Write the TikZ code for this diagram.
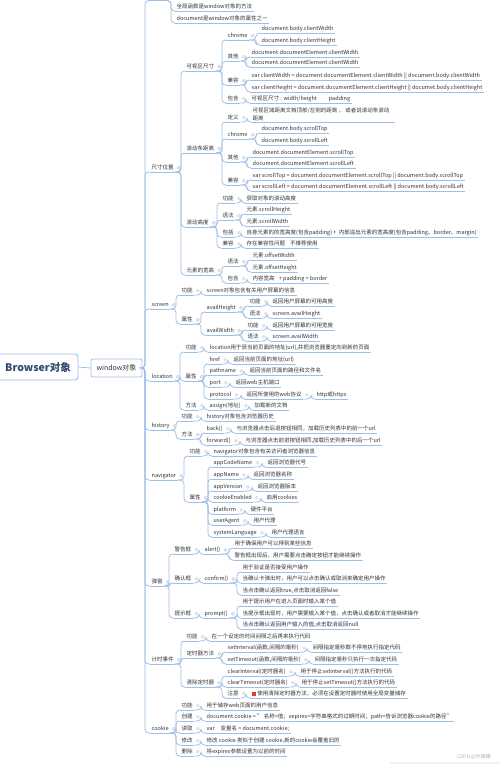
\documentclass[tikz,border=0pt]{standalone}
\usepackage{fontspec}
\setmainfont{Noto Sans CJK SC}
\usetikzlibrary{calc}
\definecolor{ulc}{HTML}{9DC0E8}
\definecolor{txt}{HTML}{333333}
\definecolor{circ}{HTML}{C5CFDB}
\definecolor{rootc}{HTML}{2E4A6B}
\definecolor{iconred}{HTML}{E03A3A}
\tikzset{
 lbl/.style={anchor=south west, inner xsep=1.5pt, inner ysep=1pt, text height=4.5pt, text depth=1.3pt, font=\fontsize{5.5}{7}\selectfont, text=txt},
 ul/.style={draw=ulc, line width=0.9pt},
 cn/.style={draw=ulc, line width=0.8pt, rounded corners=3.5pt},
 knob/.style={draw=circ, fill=white, line width=0.5pt},
 rootbox/.style={draw=ulc, line width=0.9pt, rounded corners=3pt, fill=white, minimum width=80pt, minimum height=26pt, font=\fontsize{10.5}{12}\selectfont\bfseries, text=rootc},
 winbox/.style={draw=ulc, line width=0.8pt, rounded corners=2pt, fill=white, minimum width=51pt, minimum height=18pt, font=\fontsize{7}{8}\selectfont, text=txt},
}
\newcommand\Nd[4]{\node[lbl] (#1) at (#2,#3) {#4}; \draw[ul] (#1.south west) -- (#1.south east);}
\newcommand\Cn[3][south east]{\draw[cn] let \p1=(#2.#1), \p2=(#3.south west) in (\p1) -- (\x2-4pt,\y1) -- (\x2-4pt,\y2) -- (\p2);
  \draw[knob] ($(#2.#1)+(3.5pt,4.2pt)$) circle (1.4pt);}
\newcommand\Tk[1]{\draw[cn] (win.east) -- (145,368) |- (#1.south west);}
\begin{document}
\begin{tikzpicture}[x=1pt,y=-1pt]
\fill[white] (0,0) rectangle (500,764);
\useasboundingbox (0,0) rectangle (500,764);

% root and window
\node[rootbox] (root) at (38,367) {Browser对象};
\node[winbox] (win) at (116.5,368) {window对象};
\draw[cn] (root.east) -- (win.west);

% top (cut) group
\coordinate (t0a) at (150,0.6);
\coordinate (t0) at (168,0.6);
\draw[ul] (t0a) -- (t0);
\draw[cn] (win.east) -- (145,368) |- (t0a);
\Nd{g1}{175}{11}{全局函数是window对象的方法}
\Nd{g2}{175}{23}{document是window对象的属性之一}
\Cn[center]{t0}{g1}\Cn[center]{t0}{g2}

% 尺寸位置
\Nd{s}{150}{172}{尺寸位置}
\Nd{s1}{185}{71}{可视区尺寸}
\Nd{s2}{185}{153}{滚动条距离}
\Nd{s3}{185}{227}{滚动高度}
\Nd{s4}{185}{275}{元素的宽高}
\Nd{s1a}{226}{40}{chrome}
\Nd{s1b}{226}{61}{其他}
\Nd{s1c}{226}{85}{兼容}
\Nd{s1d}{226}{103}{包含}
\Nd{s1a1}{260}{33}{document.body.clientWidth}
\Nd{s1a2}{260}{45}{document.body.clientHeight}
\Nd{s1b1}{250}{57}{document.documentElement.clientWidth}
\Nd{s1b2}{250}{67}{document.documentElement.clientWidth}
\Nd{s1c1}{250}{80}{var clientWidth = document.documentElement.clientWidth || document.body.clientWidth}
\Nd{s1c2}{250}{92}{var clientHeight = document.documentElement.clientHeight || documet.body.clientHeight}
\Nd{s1d1}{250}{103}{可视区尺寸 : width/height\hspace{12pt}padding}
\Nd{s2a}{226}{122}{定义}
\node[anchor=south west, inner xsep=1.5pt, inner ysep=1pt, align=left, font=\fontsize{5.5}{7.6}\selectfont, text=txt] (s2a1) at (251,122) {可视区域距离文档顶部/左侧的距离 ， 或者说滚动条滚动\\距离};
\draw[ul] (s2a1.south west) -- ++(144pt,0);
\Nd{s2b}{226}{139}{chrome}
\Nd{s2b1}{260}{133}{document.body.scrollTop}
\Nd{s2b2}{260}{145}{document.body.scrollLeft}
\Nd{s2c}{226}{162}{其他}
\Nd{s2c1}{251}{157}{document.documentElement.scrollTop}
\Nd{s2c2}{251}{168}{document.documentElement.scrollLeft}
\Nd{s2d}{226}{185}{兼容}
\Nd{s2d1}{251}{180}{var scrollTop = document.documentElement.scrollTop || document.body.scrollTop}
\Nd{s2d2}{251}{191}{var scrollLeft = document.documentElement.scrollLeft || document.body.scrollLeft}
\Nd{s3a}{221}{203}{功能}
\Nd{s3a1}{245}{203}{获取对象的滚动高度}
\Nd{s3b}{221}{220}{语法}
\Nd{s3b1}{245}{214}{元素.scrollHeight}
\Nd{s3b2}{245}{226}{元素.scrollWidth}
\Nd{s3c}{221}{237}{包括}
\Nd{s3c1}{245}{237}{自身元素的的宽高度(包含padding) + \ 内部溢出元素的宽高度(包含padding、border、margin)}
\Nd{s3d}{221}{248}{兼容}
\Nd{s3d1}{245}{248}{存在兼容性问题\hspace{5pt}不推荐使用}
\Nd{s4a}{226}{266}{语法}
\Nd{s4a1}{251}{260}{元素.offsetWidth}
\Nd{s4a2}{251}{272}{元素.offsetHeight}
\Nd{s4b}{226}{283}{包含}
\Nd{s4b1}{251}{283}{内容宽高\hspace{3pt} + padding + border}
\Cn{s}{s1}\Cn{s}{s2}\Cn{s}{s3}\Cn{s}{s4}
\Cn{s1}{s1a}\Cn{s1}{s1b}\Cn{s1}{s1c}\Cn{s1}{s1d}
\Cn{s1a}{s1a1}\Cn{s1a}{s1a2}\Cn{s1b}{s1b1}\Cn{s1b}{s1b2}
\Cn{s1c}{s1c1}\Cn{s1c}{s1c2}\Cn{s1d}{s1d1}
\Cn{s2}{s2a}\Cn{s2}{s2b}\Cn{s2}{s2c}\Cn{s2}{s2d}
\Cn{s2a}{s2a1}\Cn{s2b}{s2b1}\Cn{s2b}{s2b2}\Cn{s2c}{s2c1}\Cn{s2c}{s2c2}
\Cn{s2d}{s2d1}\Cn{s2d}{s2d2}
\Cn{s3}{s3a}\Cn{s3}{s3b}\Cn{s3}{s3c}\Cn{s3}{s3d}
\Cn{s3a}{s3a1}\Cn{s3b}{s3b1}\Cn{s3b}{s3b2}\Cn{s3c}{s3c1}\Cn{s3d}{s3d1}
\Cn{s4}{s4a}\Cn{s4}{s4b}
\Cn{s4a}{s4a1}\Cn{s4a}{s4a2}\Cn{s4b}{s4b1}

% screen
\Nd{sc}{150}{309}{screen}
\Nd{sca}{180}{295}{功能}
\Nd{sca1}{205}{295}{screen对象包含有关用户屏幕的信息}
\Nd{scb}{180}{324}{属性}
\Nd{scb1}{205}{312}{availHeight}
\Nd{scb1a}{248}{306}{功能}
\Nd{scb1a1}{271}{306}{返回用户屏幕的可用高度}
\Nd{scb1b}{248}{318}{语法}
\Nd{scb1b1}{271}{318}{screen.availHeight}
\Nd{scb2}{205}{335}{availWidth}
\Nd{scb2a}{246}{330}{功能}
\Nd{scb2a1}{271}{330}{返回用户屏幕的可用宽度}
\Nd{scb2b}{246}{341}{语法}
\Nd{scb2b1}{271}{341}{screen.availWidth}
\Cn{sc}{sca}\Cn{sc}{scb}\Cn{sca}{sca1}
\Cn{scb}{scb1}\Cn{scb}{scb2}
\Cn{scb1}{scb1a}\Cn{scb1}{scb1b}\Cn{scb1a}{scb1a1}\Cn{scb1b}{scb1b1}
\Cn{scb2}{scb2a}\Cn{scb2}{scb2b}\Cn{scb2a}{scb2a1}\Cn{scb2b}{scb2b1}

% location
\Nd{lo}{150}{381}{location}
\Nd{loa}{184}{352}{功能}
\Nd{loa1}{208}{352}{location用于获当前页面的地址(url),并把浏览器重定向到新的页面}
\Nd{lob}{184}{381}{属性}
\Nd{lob1}{208}{364}{href}
\Nd{lob1a}{232}{364}{返回当前页面的地址(url)}
\Nd{lob2}{208}{375}{pathname}
\Nd{lob2a}{248}{375}{返回当前页面的路径和文件名}
\Nd{lob3}{208}{387}{port}
\Nd{lob3a}{234}{387}{返回web主机端口}
\Nd{lob4}{208}{399}{protocol}
\Nd{lob4a}{245}{399}{返回所使用的web协议}
\Nd{lob4b}{315}{399}{http或https}
\Nd{loc}{184}{410}{方法}
\Nd{loc1}{208}{410}{assign(地址)}
\Nd{loc1a}{253}{410}{加载新的文档}
\Cn{lo}{loa}\Cn{lo}{lob}\Cn{lo}{loc}\Cn{loa}{loa1}
\Cn{lob}{lob1}\Cn{lob}{lob2}\Cn{lob}{lob3}\Cn{lob}{lob4}
\Cn{lob1}{lob1a}\Cn{lob2}{lob2a}\Cn{lob3}{lob3a}\Cn{lob4}{lob4a}\Cn{lob4a}{lob4b}
\Cn{loc}{loc1}\Cn{loc1}{loc1a}

% history
\Nd{hi}{150}{430}{history}
\Nd{hia}{180}{421}{功能}
\Nd{hia1}{205}{421}{history对象包含浏览器历史}
\Nd{hib}{180}{439}{方法}
\Nd{hib1}{205}{433}{back()}
\Nd{hib1a}{235}{433}{与浏览器点击后退按钮相同，加载历史列表中的前一个url}
\Nd{hib2}{205}{445}{forward()}
\Nd{hib2a}{244}{445}{与浏览器点击前进按钮相同,加载历史列表中的后一个url}
\Cn{hi}{hia}\Cn{hi}{hib}\Cn{hia}{hia1}
\Cn{hib}{hib1}\Cn{hib}{hib2}\Cn{hib1}{hib1a}\Cn{hib2}{hib2a}

% navigator
\Nd{na}{150}{480}{navigator}
\Nd{naa}{188}{456}{功能}
\Nd{naa1}{212}{456}{navigator对象包含有关访问者浏览器信息}
\Nd{nab}{188}{502}{属性}
\Nd{nb1}{212}{467}{appCodeName}
\Nd{nb1a}{266}{467}{返回浏览器代号}
\Nd{nb2}{212}{479}{appName}
\Nd{nb2a}{252}{479}{返回浏览器名称}
\Nd{nb3}{212}{491}{appVersion}
\Nd{nb3a}{256}{491}{返回浏览器版本}
\Nd{nb4}{212}{502}{cookieEnabled}
\Nd{nb4a}{265}{502}{启用cookies}
\Nd{nb5}{212}{514}{platform}
\Nd{nb5a}{249}{514}{硬件平台}
\Nd{nb6}{212}{525}{userAgent}
\Nd{nb6a}{252}{525}{用户代理}
\Nd{nb7}{212}{537}{systemLanguage}
\Nd{nb7a}{270}{537}{用户代理语言}
\Cn{na}{naa}\Cn{na}{nab}\Cn{naa}{naa1}
\Cn{nab}{nb1}\Cn{nab}{nb2}\Cn{nab}{nb3}\Cn{nab}{nb4}\Cn{nab}{nb5}\Cn{nab}{nb6}\Cn{nab}{nb7}
\Cn{nb1}{nb1a}\Cn{nb2}{nb2a}\Cn{nb3}{nb3a}\Cn{nb4}{nb4a}\Cn{nb5}{nb5a}\Cn{nb6}{nb6a}\Cn{nb7}{nb7a}

% 弹窗
\Nd{tc}{150}{586}{弹窗}
\Nd{tca}{173}{554}{警告框}
\Nd{tca1}{203}{554}{alert()}
\Nd{tca1a}{233}{548}{用于确保用户可以得到某些信息}
\Nd{tca1b}{233}{560}{警告框出现后，用户需要点击确定按钮才能继续操作}
\Nd{tcb}{173}{583}{确认框}
\Nd{tcb1}{203}{583}{confirm()}
\Nd{tcb1a}{241}{572}{用于验证是否接受用户操作}
\Nd{tcb1b}{241}{583}{当确认卡弹出时，用户可以点击确认或取消来确定用户操作}
\Nd{tcb1c}{241}{595}{当点击确认返回true,点击取消返回false}
\Nd{tcc}{173}{618}{提示框}
\Nd{tcc1}{203}{618}{prompt()}
\Nd{tcc1a}{241}{606}{用于提示用户在进入页面时输入某个值}
\Nd{tcc1b}{241}{618}{当提示框出现时，用户需要输入某个值，点击确认或者取消才能继续操作}
\Nd{tcc1c}{241}{629}{当点击确认返回用户输入的值,点击取消返回null}
\Cn{tc}{tca}\Cn{tc}{tcb}\Cn{tc}{tcc}
\Cn{tca}{tca1}\Cn{tca1}{tca1a}\Cn{tca1}{tca1b}
\Cn{tcb}{tcb1}\Cn{tcb1}{tcb1a}\Cn{tcb1}{tcb1b}\Cn{tcb1}{tcb1c}
\Cn{tcc}{tcc1}\Cn{tcc1}{tcc1a}\Cn{tcc1}{tcc1b}\Cn{tcc1}{tcc1c}

% 计时事件
\Nd{ti}{150}{664}{计时事件}
\Nd{tia}{185}{641}{功能}
\Nd{tia1}{210}{641}{在一个设定的时间间隔之后再来执行代码}
\Nd{tib}{185}{658}{定时器方法}
\Nd{tib1}{226}{652}{setInterval(函数,间隔的毫秒)}
\Nd{tib1a}{311}{652}{间隔指定毫秒数不停地执行指定代码}
\Nd{tib2}{226}{664}{setTimeout(函数,间隔的毫秒)}
\Nd{tib2a}{313}{664}{间隔指定毫秒只执行一次指定代码}
\Nd{tic}{185}{687}{清除定时器}
\Nd{tic1}{226}{676}{clearInterval(定时器名)}
\Nd{tic1a}{299}{676}{用于停止setinterval()方法执行的代码}
\Nd{tic2}{226}{687}{clearTimeout(定时器名)}
\Nd{tic2a}{300}{687}{用于停止setTimeout()方法执行的代码}
\Nd{tic3}{226}{698}{注意}
\Nd{tic3a}{250}{698}{{\color{iconred}\rule[-0.2pt]{4.2pt}{4.2pt}}\hspace{1.5pt}使用清除定时器方法，必须在设置定时器时使用全局变量储存}
\Cn{ti}{tia}\Cn{ti}{tib}\Cn{ti}{tic}\Cn{tia}{tia1}
\Cn{tib}{tib1}\Cn{tib}{tib2}\Cn{tib1}{tib1a}\Cn{tib2}{tib2a}
\Cn{tic}{tic1}\Cn{tic}{tic2}\Cn{tic}{tic3}
\Cn{tic1}{tic1a}\Cn{tic2}{tic2a}\Cn{tic3}{tic3a}

% cookie
\Nd{ck}{150}{733}{cookie}
\Nd{cka}{180}{710}{功能}
\Nd{cka1}{205}{710}{用于储存web页面的用户信息}
\Nd{ckb}{180}{721}{创建}
\Nd{ckb1}{205}{721}{document.cookie = " 名称=值；expires=字符串格式的过期时间；path=告诉浏览器cookie的路径"}
\Nd{ckc}{180}{733}{读取}
\Nd{ckc1}{205}{733}{var\hspace{6pt}变量名 = document.cookie;}
\Nd{ckd}{180}{745}{修改}
\Nd{ckd1}{205}{745}{修改 cookie 类似于创建 cookie,新的cookie会覆盖旧的}
\Nd{cke}{180}{756}{删除}
\Nd{cke1}{205}{756}{将expires参数设置为以前的时间}
\Cn{ck}{cka}\Cn{ck}{ckb}\Cn{ck}{ckc}\Cn{ck}{ckd}\Cn{ck}{cke}
\Cn{cka}{cka1}\Cn{ckb}{ckb1}\Cn{ckc}{ckc1}\Cn{ckd}{ckd1}\Cn{cke}{cke1}

% trunk
\Tk{s}\Tk{sc}\Tk{lo}\Tk{hi}\Tk{na}\Tk{tc}\Tk{ti}\Tk{ck}

% watermark
\fill[gray!12] (390,762) rectangle (500,764);
\node[font=\fontsize{5}{6}\selectfont, text=gray!60] (wm) at (474,757) {CSDN @叶跟跟};
\end{tikzpicture}
\end{document}
